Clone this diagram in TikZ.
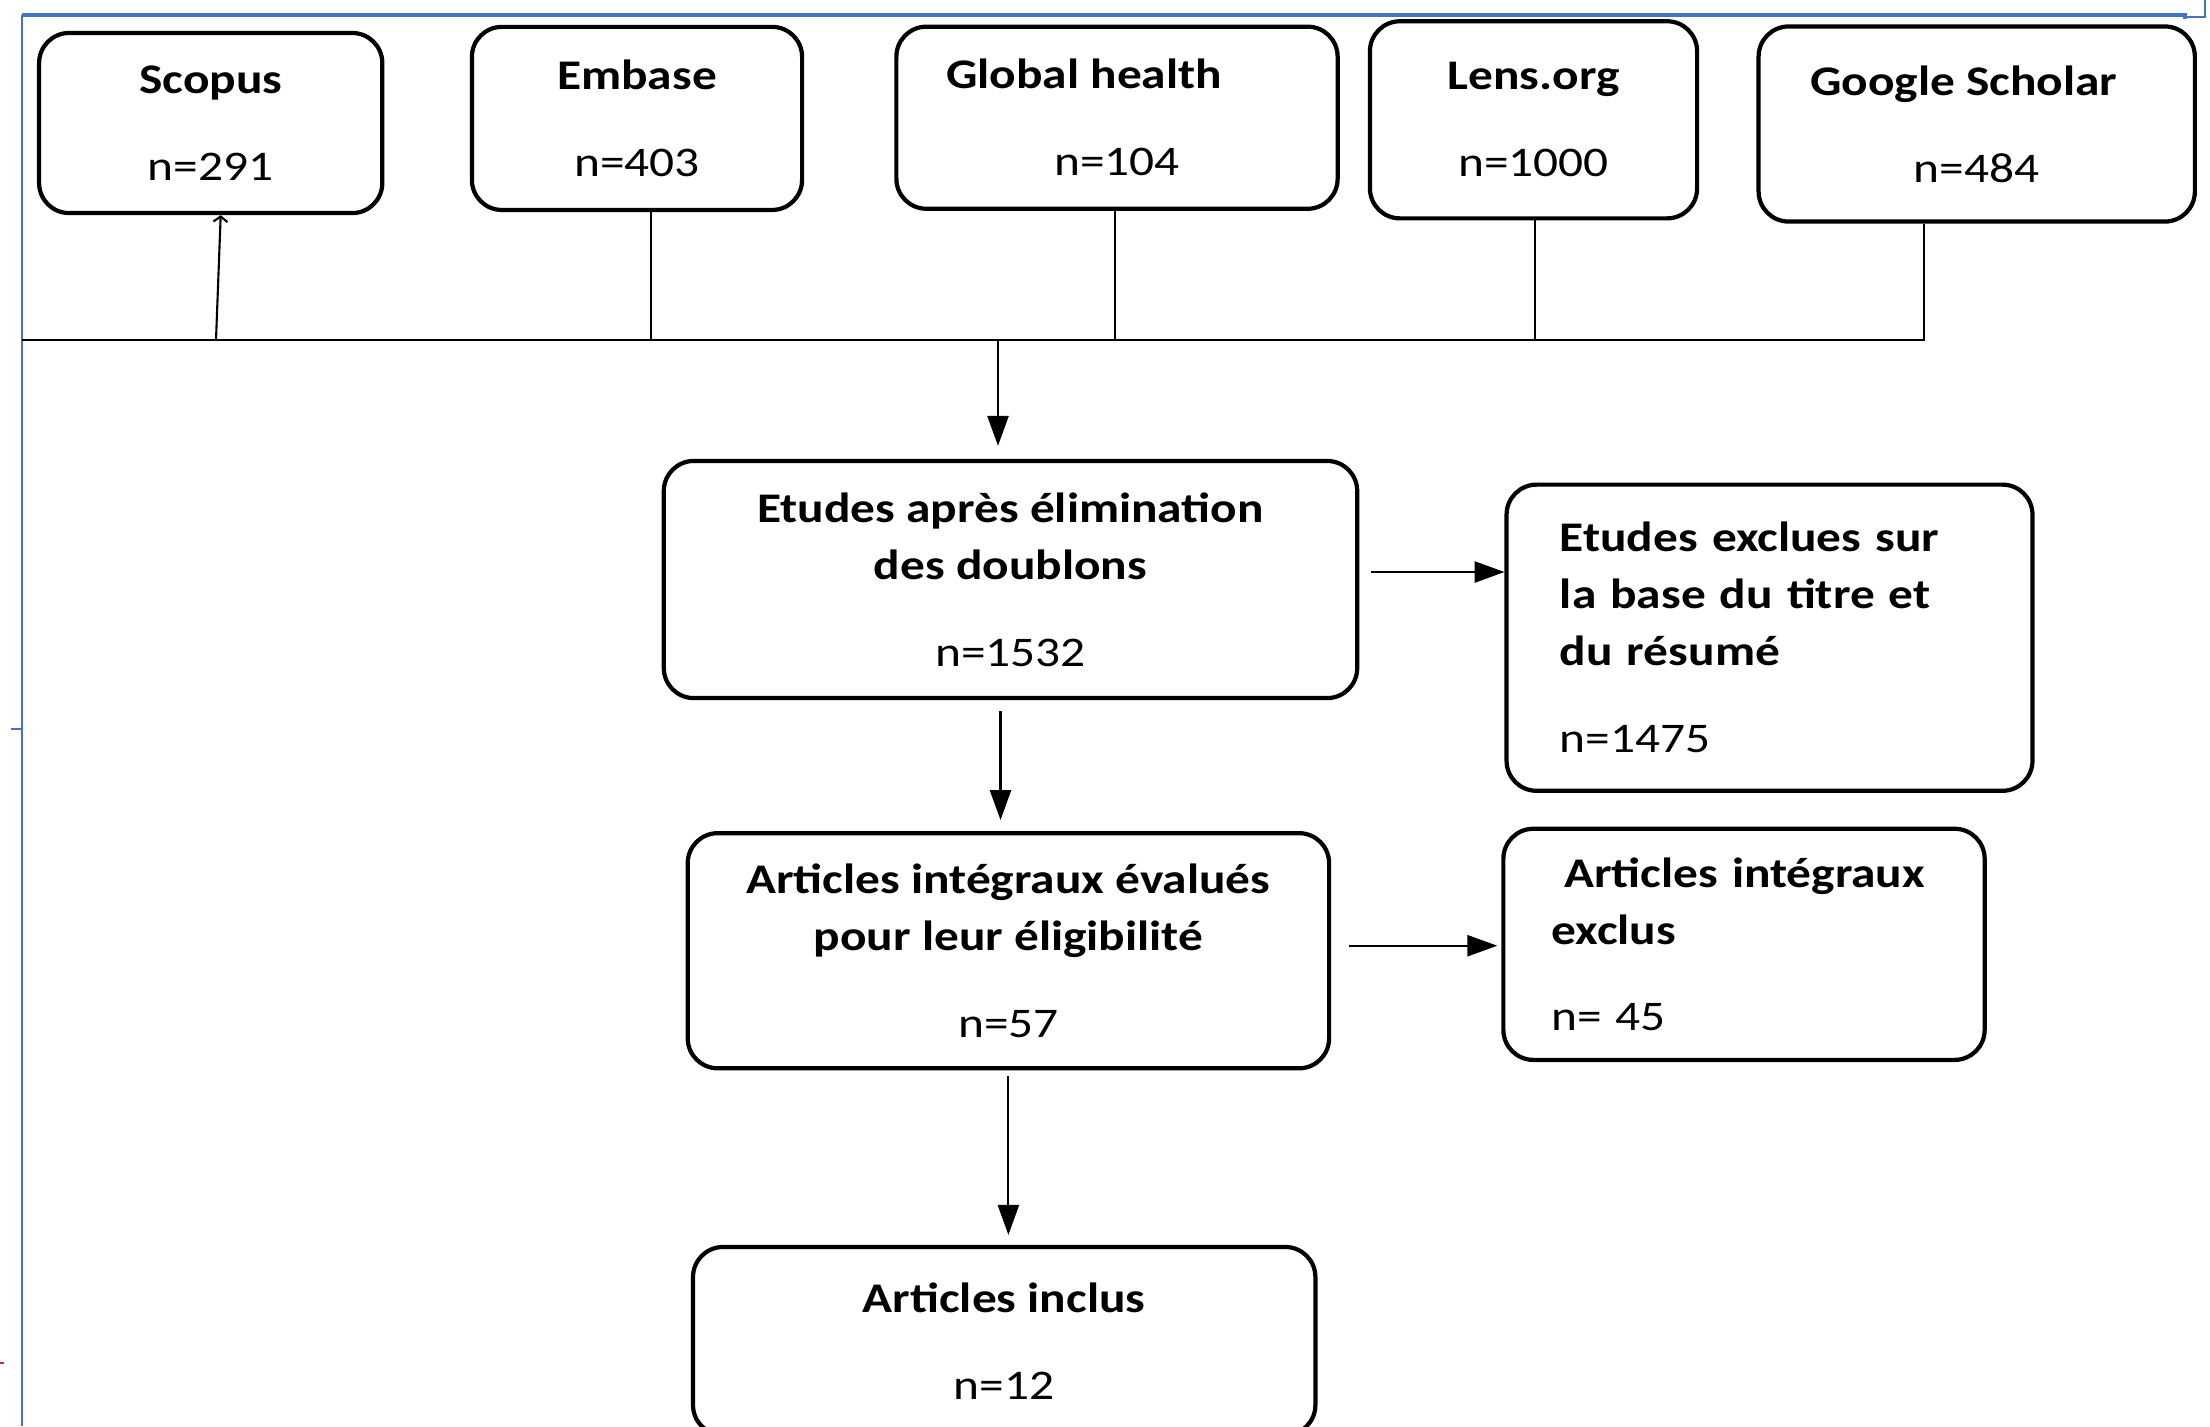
\documentclass[tikz,border=0pt]{standalone}
\usepackage{fontspec}
\setmainfont{Carlito}[FakeStretch=1.17]
\usepackage{tikz}
\usetikzlibrary{arrows.meta}
\definecolor{WordBlue}{RGB}{68,114,196}
\definecolor{MarkRed}{RGB}{220,40,80}

\begin{document}
\begin{tikzpicture}[x=0.01cm, y=-0.01cm,
>={Triangle[length=8.5pt, width=6pt]},
font=\fontsize{12}{16.2}\selectfont,
dbbox/.style={rectangle, rounded corners=3mm, draw=black, line width=1.2pt,
align=center, inner sep=0pt},
%
stepbox/.style={rectangle, rounded corners=3mm, draw=black, line width=1.2pt,
align=center, inner sep=0pt},
%
exclbox/.style={rectangle, rounded corners=3mm, draw=black, line width=1.2pt,
align=left, inner ysep=0pt},
%
link/.style={draw=black, line width=.6pt}]

\useasboundingbox (0,0) rectangle (2210,1426);
\clip (0,0) rectangle (2210,1426);

%%%%%%%%%%%%%%%%%%%%%%%%%%%%%%
\draw [WordBlue, line width=.9pt] (22,15) -- (2185,15) -- (2185,19);
\draw [WordBlue, line width=.4pt] (2185,17) -- (2205,17) -- (2205,0);
\draw [WordBlue, line width=.5pt] (22,15) -- (22,1426);
\draw [WordBlue, line width=.5pt] (11,729) -- (22,729);
\draw [MarkRed, line width=.5pt] (0,1363) -- (4,1363);

%%%%%%%%%%%%%%%%%%%%%%%%%%%%%%
\node [dbbox, minimum width=3.43cm, minimum height=1.80cm] (dbScopus) at (210.7,123)
  {\textbf{Scopus}\\[8.5pt] n=291};
\node [dbbox, minimum width=3.30cm, minimum height=1.83cm] (dbEmbase) at (637,118.4)
  {\textbf{Embase}\\[8.5pt] n=403};
\node [dbbox, minimum width=4.41cm, minimum height=1.82cm] (dbGlobal) at (1117,117.7)
  {\textbf{Global health}\hspace*{6.6mm}\\[8.5pt] n=104};
\node [dbbox, minimum width=3.27cm, minimum height=1.97cm] (dbLens) at (1533.5,119.8)
  {\textbf{Lens.org}\\[8.5pt] n=1000};
\node [dbbox, minimum width=4.36cm, minimum height=1.95cm] (dbScholar) at (1976.7,124)
  {\textbf{Google Scholar}\hspace*{2.6mm}\\[8.5pt] n=484};

%%%%%%%%%%%%%%%%%%%%%%%%%%%%%%
\node [stepbox, minimum width=6.93cm, minimum height=2.37cm] (stepDedup) at (1010.5,579.5)
  {\textbf{Etudes après élimination}\\\textbf{des doublons}\\[8.5pt] n=1532};
\node [exclbox, text width=4.19cm, inner xsep=5.33mm, minimum height=3.06cm] (exclTitle) at (1769.5,637.7)
  {\textbf{Etudes exclues sur}\\\textbf{la base du titre et}\\\textbf{du résumé}\\[8.5pt] n=1475};
\node [stepbox, minimum width=6.41cm, minimum height=2.35cm] (stepFull) at (1008.4,950.7)
  {\textbf{Articles intégraux évalués}\\\textbf{pour leur éligibilité}\\[8.5pt] n=57};
\node [exclbox, text width=3.85cm, inner xsep=4.8mm, minimum height=2.31cm] (exclFull) at (1744,944.3)
  {\hspace*{1.3mm}\textbf{Articles intégraux}\\\textbf{exclus}\\[8.5pt] n= 45};
\node [stepbox, minimum width=6.22cm, minimum height=1.88cm] (stepIncl) at (1004.2,1341)
  {\textbf{Articles inclus}\\[8.5pt] n=12};

%%%%%%%%%%%%%%%%%%%%%%%%%%%%%%
\coordinate (busLeft) at (22,340);
\coordinate (busRight) at (1924,340);
\coordinate (busScopus) at (216,340);
\coordinate (busEmbase) at (651,340);
\coordinate (busGlobal) at (1115,340);
\coordinate (busLens) at (1535,340);
\coordinate (busMid) at (998,340);

\begin{scope}
  \draw [link] (busLeft) -- (busRight) -- (dbScholar.south -| busRight);
  \draw [link] (dbEmbase.south -| busEmbase) -- (busEmbase);
  \draw [link] (dbGlobal.south -| busGlobal) -- (busGlobal);
  \draw [link] (dbLens.south -| busLens) -- (busLens);
  \draw [link, -{Straight Barb[length=1.5pt, width=4pt]}] (busScopus) -- ([xshift=1mm]dbScopus.south);
  %%%%%%%%%%%%%%%%%%%%%%%%%%%%%%
  \draw [link, ->, shorten >=1.3mm] (busMid) -- (busMid |- stepDedup.north);
  \draw [link, ->, shorten <=1.1mm, shorten >=1.1mm] ([xshift=-1mm]stepDedup.south)
    -- ([xshift=-1mm]stepDedup.south |- stepFull.north);
  \draw [link, ->, shorten <=.6mm, shorten >=1mm] (stepFull.south) -- (stepFull.south |- stepIncl.north);
  %%%%%%%%%%%%%%%%%%%%%%%%%%%%%%
  \draw [link, ->, shorten <=1.15mm] ([yshift=.75mm]stepDedup.east)
    -- ([yshift=.75mm]stepDedup.east -| exclTitle.west);
  \draw [link, ->, shorten <=1.8mm, shorten >=.4mm] ([yshift=.5mm]stepFull.east)
    -- ([yshift=.5mm]stepFull.east -| exclFull.west);
\end{scope}

\end{tikzpicture}
\end{document}
